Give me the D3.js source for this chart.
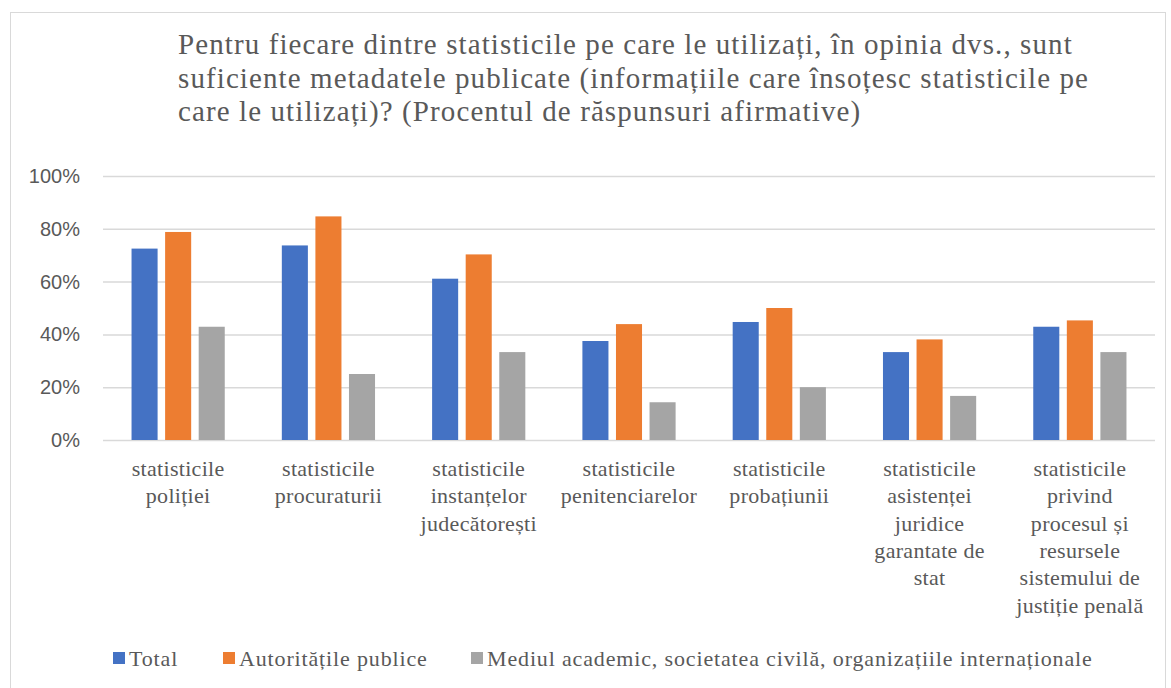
<!DOCTYPE html>
<html>
<head>
<meta charset="utf-8">
<script src="https://cdn.jsdelivr.net/npm/d3@7"></script>
<style>
  html, body { margin: 0; padding: 0; background: #fff; }
  svg { display: block; }
  .serif { font-family: 'Times New Roman', Tinos, 'Liberation Serif', 'Noto Serif', 'DejaVu Serif', serif; }
  .sans { font-family: 'Liberation Sans', Arial, sans-serif; }
</style>
</head>
<body>
<div id="chart"></div>
<script>
// Data
const titleLines = [
  'Pentru fiecare dintre statisticile pe care le utilizați, în opinia dvs., sunt',
  'suficiente metadatele publicate (informațiile care însoțesc statisticile pe',
  'care le utilizați)? (Procentul de răspunsuri afirmative)',
];
const categories = [
  ['statisticile', 'poliției'],
  ['statisticile', 'procuraturii'],
  ['statisticile', 'instanțelor', 'judecătorești'],
  ['statisticile', 'penitenciarelor'],
  ['statisticile', 'probațiunii'],
  ['statisticile', 'asistenței', 'juridice', 'garantate de', 'stat'],
  ['statisticile', 'privind', 'procesul și', 'resursele', 'sistemului de', 'justiție penală'],
];
const seriesNames = ['Total', 'Autoritățile publice', 'Mediul academic, societatea civilă, organizațiile internaționale'];
const totalValues = [72.5, 73.7, 61.1, 37.5, 44.7, 33.3, 42.9];
const publiceValues = [78.8, 84.7, 70.3, 43.9, 50.0, 38.1, 45.3];
const mediulValues = [42.9, 25.0, 33.3, 14.3, 20.0, 16.7, 33.3];
const yTicks = [0, 20, 40, 60, 80, 100];

const COLORS = ['#4472C4', '#ED7D31', '#A5A5A5'];
const seriesValues = [totalValues, publiceValues, mediulValues];

const W = 1171, H = 688;
const margin = { top: 176, right: 16, bottom: 248, left: 103 };
const width = W - margin.left - margin.right;
const height = H - margin.top - margin.bottom;

const svg = d3.select('#chart').append('svg')
  .attr('width', W)
  .attr('height', H);

// Frame
svg.append('rect')
  .attr('x', 10.5).attr('y', 12.5)
  .attr('width', 1155).attr('height', 700)
  .attr('fill', 'none')
  .attr('stroke', '#d9d9d9')
  .attr('stroke-width', 1);

// Title
svg.append('text')
  .attr('class', 'serif')
  .attr('x', 178)
  .attr('y', 54)
  .attr('fill', '#595959')
  .style('font-size', '29px')
  .style('letter-spacing', '1.1px')
  .selectAll('tspan')
  .data(titleLines)
  .join('tspan')
  .attr('x', 178)
  .attr('dy', (d, i) => i === 0 ? 0 : 33.5)
  .text(d => d);

const g = svg.append('g')
  .attr('transform', `translate(${margin.left},${margin.top})`);

// Scales
const x0 = d3.scaleBand()
  .domain(d3.range(categories.length))
  .range([0, width])
  .padding(0);

const x1 = d3.scaleBand()
  .domain(d3.range(seriesNames.length))
  .range([0, x0.bandwidth()])
  .paddingInner(0.224)
  .paddingOuter(0.85);

const y = d3.scaleLinear()
  .domain([0, 100])
  .range([height, 0]);

// Gridlines + y labels
const yAxis = g.append('g')
  .call(d3.axisLeft(y).tickValues(yTicks).tickSize(-width).tickPadding(23).tickFormat(d => d + '%'));
yAxis.select('.domain').remove();
yAxis.selectAll('.tick line')
  .attr('stroke', '#d9d9d9')
  .attr('stroke-width', 1.5);
yAxis.selectAll('.tick text')
  .attr('class', 'sans')
  .attr('fill', '#595959')
  .style('font-size', '20px');

// Bars
const groups = g.selectAll('.cat')
  .data(categories.map((c, i) => i))
  .join('g')
  .attr('class', 'cat')
  .attr('transform', i => `translate(${x0(i)},0)`);

groups.selectAll('rect')
  .data(i => seriesValues.map((vals, s) => ({ s, v: vals[i] })))
  .join('rect')
  .attr('x', d => x1(d.s))
  .attr('y', d => y(d.v))
  .attr('width', x1.bandwidth())
  .attr('height', d => height - y(d.v))
  .attr('fill', d => COLORS[d.s]);

// Category labels
const catLabels = g.append('g')
  .attr('class', 'serif')
  .style('font-size', '22px')
  .style('letter-spacing', '0.3px')
  .attr('fill', '#595959')
  .attr('text-anchor', 'middle');

catLabels.selectAll('text')
  .data(categories)
  .join('text')
  .attr('transform', (d, i) => `translate(${x0(i) + x0.bandwidth() / 2},${height + 36})`)
  .selectAll('tspan')
  .data(d => d)
  .join('tspan')
  .attr('x', 0)
  .attr('dy', (d, i) => i === 0 ? 0 : 27.3)
  .text(d => d);

// Legend
const legendItems = [
  { x: 113, name: seriesNames[0], color: COLORS[0] },
  { x: 223, name: seriesNames[1], color: COLORS[1] },
  { x: 471, name: seriesNames[2], color: COLORS[2] },
];
const legend = svg.append('g')
  .attr('class', 'serif')
  .style('font-size', '22px')
  .style('letter-spacing', '0.85px')
  .attr('fill', '#595959');

const li = legend.selectAll('g')
  .data(legendItems)
  .join('g')
  .attr('transform', d => `translate(${d.x},652)`);

li.append('rect')
  .attr('x', 0).attr('y', 0)
  .attr('width', 12).attr('height', 12)
  .attr('fill', d => d.color);

li.append('text')
  .attr('x', 16)
  .attr('y', 14)
  .text(d => d.name);
</script>
</body>
</html>
